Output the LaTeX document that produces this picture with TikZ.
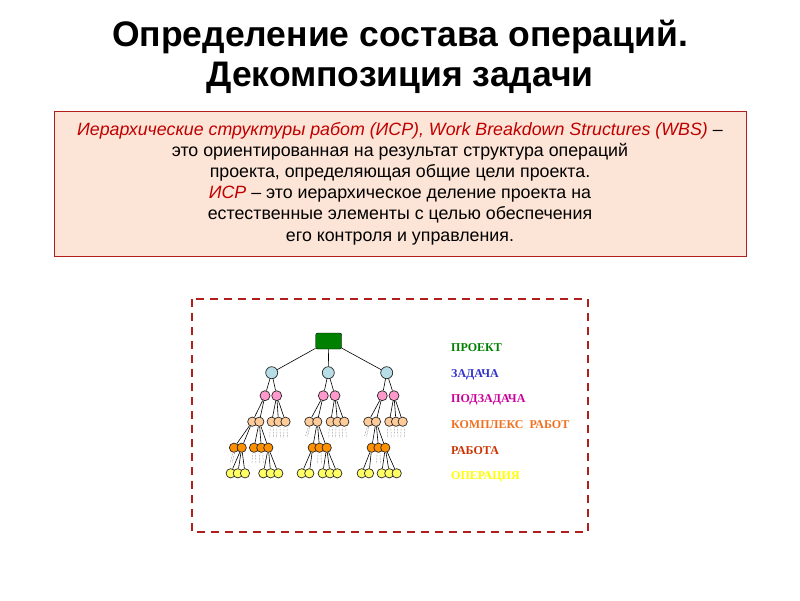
\documentclass[tikz,border=0pt]{standalone}
\usepackage{fontspec}
\setmainfont{Liberation Sans}
\newfontfamily\legendfont{Liberation Serif}
\usepackage{xcolor}
\definecolor{boxred}{HTML}{B01E1E}
\definecolor{boxfill}{HTML}{FCE4D6}
\definecolor{wbsred}{HTML}{C00000}
\definecolor{rootgreen}{HTML}{008000}
\definecolor{taskblue}{HTML}{B7DDE6}
\definecolor{subpink}{HTML}{FF99CC}
\definecolor{packpeach}{HTML}{FFCC99}
\definecolor{workorange}{HTML}{FF9000}
\definecolor{opyellow}{HTML}{FFFF66}
\tikzset{
  lvl/.style={circle, draw=black!85, line width=0.7pt, inner sep=0pt},
  task/.style={lvl, fill=taskblue, minimum size=12pt},
  subtask/.style={lvl, fill=subpink, minimum size=10pt},
  pack/.style={lvl, fill=packpeach, minimum size=9.3pt},
  work/.style={lvl, fill=workorange, minimum size=9.3pt},
  oper/.style={lvl, fill=opyellow, minimum size=9.3pt},
  link/.style={line width=0.6pt},
  stub/.style={densely dotted, line width=0.5pt, black!60},
  legend/.style={anchor=base west, inner sep=0pt, font=\legendfont\bfseries\fontsize{12}{14}\selectfont}
}

\begin{document}
\begin{tikzpicture}[x=1pt, y=-1pt]
        \useasboundingbox (0,0) rectangle (800,600);

        % title
        \node[anchor=base, font=\bfseries\fontsize{35.5}{40}\selectfont] (title1) at (400,46) {Определение состава операций.};
        \node[anchor=base, font=\bfseries\fontsize{35.5}{40}\selectfont] (title2) at (400,86) {Декомпозиция задачи};

        % definition box
        \node[draw=boxred, fill=boxfill, line width=0.8pt, minimum width=692pt, minimum height=145pt,
              align=center, font=\fontsize{17.8}{21.2}\selectfont] (defbox) at (400,183.5)
        {{\color{wbsred}\itshape Иерархические структуры работ (ИСР), Work Breakdown Structures (WBS)} –\\
         это ориентированная на результат структура операций\\
         проекта, определяющая общие цели проекта.\\
         {\color{wbsred}\itshape ИСР} – это иерархическое деление проекта на\\
         естественные элементы с целью обеспечения\\
         его контроля и управления.};

        % dashed frame
        \draw[boxred, line width=1.8pt, dash pattern=on 8pt off 6pt] (192,299) rectangle (588,532);

        % root
        \node[draw=black, fill=rootgreen, rounded corners=2pt, minimum width=26pt, minimum height=16pt, inner sep=0pt] (root) at (328.7,341) {};

        % tasks
        \node[task] (t1) at (271.7,372.7) {};
        \node[task] (t2) at (328.3,372.7) {};
        \node[task] (t3) at (386.7,372.7) {};

        % subtasks
        \node[subtask] (s11) at (265,395.7) {};
        \node[subtask] (s12) at (276.7,395.7) {};
        \node[subtask] (s21) at (323.3,395.7) {};
        \node[subtask] (s22) at (335,395.7) {};
        \node[subtask] (s31) at (382.3,395.7) {};
        \node[subtask] (s32) at (394,395.7) {};

        % work packages
        \node[pack] (c11) at (252.3,421.7) {};
        \node[pack] (c12) at (259.3,421.7) {};
        \node[pack] (c13) at (271.7,421.7) {};
        \node[pack] (c14) at (278.5,421.7) {};
        \node[pack] (c15) at (285.5,421.7) {};
        \node[pack] (c21) at (309.3,421.7) {};
        \node[pack] (c22) at (317.3,421.7) {};
        \node[pack] (c23) at (330.7,421.7) {};
        \node[pack] (c24) at (337.5,421.7) {};
        \node[pack] (c25) at (344.3,421.7) {};
        \node[pack] (c31) at (368.3,421.7) {};
        \node[pack] (c32) at (376,421.7) {};
        \node[pack] (c33) at (389.3,421.7) {};
        \node[pack] (c34) at (396,421.7) {};
        \node[pack] (c35) at (402.7,421.7) {};

        % works
        \node[work] (o11) at (234,447.7) {};
        \node[work] (o12) at (241.7,447.7) {};
        \node[work] (o13) at (254,447.7) {};
        \node[work] (o14) at (261.3,447.7) {};
        \node[work] (o15) at (268.3,447.7) {};
        \node[work] (o21) at (312.7,447.7) {};
        \node[work] (o22) at (319.5,447.7) {};
        \node[work] (o23) at (326.7,447.7) {};
        \node[work] (o31) at (371.7,447.7) {};
        \node[work] (o32) at (378.5,447.7) {};
        \node[work] (o33) at (385.3,447.7) {};

        % operations
        \node[oper] (y11) at (230.7,473.3) {};
        \node[oper] (y12) at (237.8,473.3) {};
        \node[oper] (y13) at (245,473.3) {};
        \node[oper] (y14) at (263.3,473.3) {};
        \node[oper] (y15) at (270.7,473.3) {};
        \node[oper] (y16) at (278.3,473.3) {};
        \node[oper] (y21) at (301.7,473.3) {};
        \node[oper] (y22) at (309.3,473.3) {};
        \node[oper] (y23) at (322.7,473.3) {};
        \node[oper] (y24) at (330,473.3) {};
        \node[oper] (y25) at (337.3,473.3) {};
        \node[oper] (y31) at (361.7,473.3) {};
        \node[oper] (y32) at (369,473.3) {};
        \node[oper] (y33) at (381.7,473.3) {};
        \node[oper] (y34) at (389.3,473.3) {};
        \node[oper] (y35) at (396.7,473.3) {};

        % links
        \draw[link] (root) -- (t1);
        \draw[link] (root) -- (t2);
        \draw[link] (root) -- (t3);
        \draw[link] (t1) -- (s11);
        \draw[link] (t1) -- (s12);
        \draw[link] (t2) -- (s21);
        \draw[link] (t2) -- (s22);
        \draw[link] (t3) -- (s31);
        \draw[link] (t3) -- (s32);
        \foreach \g in {1,2,3} {
          \draw[link] (s\g1) -- (c\g1);
          \draw[link] (s\g1) -- (c\g2);
          \draw[link] (s\g2) -- (c\g3);
          \draw[link] (s\g2) -- (c\g4);
          \draw[link] (s\g2) -- (c\g5);
        }
        \draw[link] (c11) -- (o11);
        \draw[link] (c11) -- (o12);
        \draw[link] (c12) -- (o13);
        \draw[link] (c12) -- (o14);
        \draw[link] (c12) -- (o15);
        \draw[link] (c22) -- (o21);
        \draw[link] (c22) -- (o22);
        \draw[link] (c22) -- (o23);
        \draw[link] (c32) -- (o31);
        \draw[link] (c32) -- (o32);
        \draw[link] (c32) -- (o33);
        \draw[link] (o12) -- (y11);
        \draw[link] (o12) -- (y12);
        \draw[link] (o12) -- (y13);
        \draw[link] (o15) -- (y14);
        \draw[link] (o15) -- (y15);
        \draw[link] (o15) -- (y16);
        \draw[link] (o21) -- (y21);
        \draw[link] (o21) -- (y22);
        \draw[link] (o23) -- (y23);
        \draw[link] (o23) -- (y24);
        \draw[link] (o23) -- (y25);
        \draw[link] (o31) -- (y31);
        \draw[link] (o31) -- (y32);
        \draw[link] (o33) -- (y33);
        \draw[link] (o33) -- (y34);
        \draw[link] (o33) -- (y35);

        % elided branches
        \foreach \n in {c13,c14,c15,c23,c24,c25,c33,c34,c35,o13,o14,o22,o32} {
          \draw[stub] (\n.south) ++(-1.5,1) -- ++(-0.5,10);
          \draw[stub] (\n.south) ++(1.5,1) -- ++(0.5,10);
        }
        \foreach \n in {c21,c31,o11} {
          \draw[stub] (\n.south) ++(-1,0) -- ++(-3,10);
          \draw[stub] (\n.south) ++(0.5,0.5) -- ++(-2.5,10);
        }

        % legend
        \node[legend, text=rootgreen] (lproj) at (451,351) {ПРОЕКТ};
        \node[legend, text={rgb,255:red,51;green,51;blue,204}] (ltask) at (451,377) {ЗАДАЧА};
        \node[legend, text={rgb,255:red,204;green,0;blue,153}] (lsub) at (451,402) {ПОДЗАДАЧА};
        \node[legend, text={rgb,255:red,240;green,112;blue,32}] (lpack) at (451,428) {КОМПЛЕКС\ \ РАБОТ};
        \node[legend, text={rgb,255:red,204;green,51;blue,0}] (lwork) at (451,454) {РАБОТА};
        \node[legend, text={rgb,255:red,255;green,255;blue,0}] (loper) at (451,479) {ОПЕРАЦИЯ};
    \end{tikzpicture}
\end{document}
